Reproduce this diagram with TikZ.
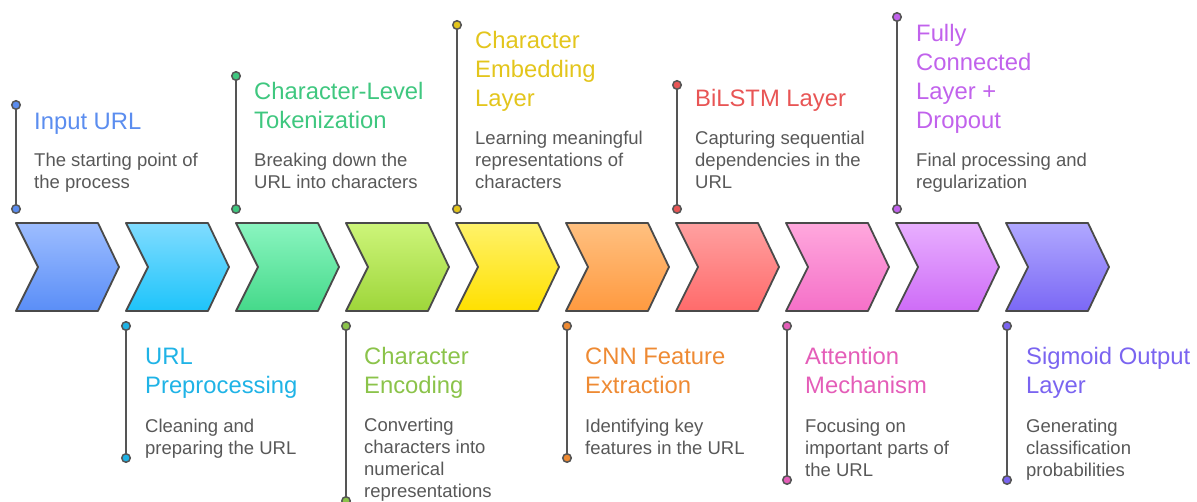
\documentclass[tikz,border=0pt]{standalone}
\usepackage{fontspec}
\setmainfont{Liberation Sans}
\usetikzlibrary{calc}
\definecolor{edge}{HTML}{4A4A4A}
\definecolor{stem}{HTML}{555555}
\definecolor{body}{HTML}{585858}
\definecolor{tA}{HTML}{9DBDFF}\definecolor{bA}{HTML}{5A8EF7}\definecolor{hA}{HTML}{5B8DEF}
\definecolor{tB}{HTML}{80DCFF}\definecolor{bB}{HTML}{1EC4FA}\definecolor{hB}{HTML}{1FB3E6}
\definecolor{tC}{HTML}{8AF5C0}\definecolor{bC}{HTML}{45D98A}\definecolor{hC}{HTML}{3FC77F}
\definecolor{tD}{HTML}{CDF57A}\definecolor{bD}{HTML}{9ED63A}\definecolor{hD}{HTML}{8BC34A}
\definecolor{tE}{HTML}{FFF26A}\definecolor{bE}{HTML}{FFE000}\definecolor{hE}{HTML}{E3C51C}
\definecolor{tF}{HTML}{FFC080}\definecolor{bF}{HTML}{FF9A40}\definecolor{hF}{HTML}{EE8A33}
\definecolor{tG}{HTML}{FFA0A0}\definecolor{bG}{HTML}{FF6B6B}\definecolor{hG}{HTML}{E85555}
\definecolor{tH}{HTML}{FFA8DD}\definecolor{bH}{HTML}{F570C8}\definecolor{hH}{HTML}{E45DB8}
\definecolor{tI}{HTML}{E8AFFF}\definecolor{bI}{HTML}{CE6CF7}\definecolor{hI}{HTML}{C162EC}
\definecolor{tJ}{HTML}{B0A8FF}\definecolor{bJ}{HTML}{7B68F5}\definecolor{hJ}{HTML}{7A64F0}
\tikzset{
  chev/.style={draw=edge, line width=1.8pt, line join=round},
  stemline/.style={draw=stem, line width=2.6pt},
  dot/.style={circle, draw=stem, line width=1.5pt, inner sep=0pt, minimum size=8.5pt},
  ttl/.style={anchor=base west, inner sep=0pt, align=left,
    font=\fontsize{23.8}{29}\selectfont},
  dsc/.style={anchor=base west, inner sep=0pt, align=left, text=body,
    font=\fontsize{18.5}{22}\selectfont},
}
\newcommand{\chevron}[3]{%
  \shade[chev, top color=#2, bottom color=#3]
    (#1,223) -- ++(82,0) -- ++(21,44) -- ++(-21,44) -- ++(-82,0) -- ++(22,-44) -- cycle;}
\begin{document}
\begin{tikzpicture}[x=1pt,y=-1pt]
\useasboundingbox (0,0) rectangle (1197,502);
% chevrons
\chevron{16}{tA}{bA}
\chevron{126}{tB}{bB}
\chevron{236}{tC}{bC}
\chevron{346}{tD}{bD}
\chevron{456}{tE}{bE}
\chevron{566}{tF}{bF}
\chevron{676}{tG}{bG}
\chevron{786}{tH}{bH}
\chevron{896}{tI}{bI}
\chevron{1006}{tJ}{bJ}

% (text nodes are placed at the baseline of their last line)
% ---- top items ----
% 1 Input URL
\coordinate (a1) at (16,105); \coordinate (a2) at (16,209);
\draw[stemline] (a1) -- (a2);
\node[dot, fill=hA] (a1d) at (a1) {}; \node[dot, fill=hA] (a2d) at (a2) {};
\node[ttl, text=hA] (aT) at (34,130) {Input URL};
\node[dsc] (aD) at (34,189) {The starting point of\\the process};

% 3 Tokenization
\coordinate (c1) at (236,76); \coordinate (c2) at (236,209);
\draw[stemline] (c1) -- (c2);
\node[dot, fill=hC] (c1d) at (c1) {}; \node[dot, fill=hC] (c2d) at (c2) {};
\node[ttl, text=hC] (cT) at (254,129) {Character-Level\\Tokenization};
\node[dsc] (cD) at (254,189) {Breaking down the\\URL into characters};

% 5 Embedding
\coordinate (e1) at (457,25); \coordinate (e2) at (457,209);
\draw[stemline] (e1) -- (e2);
\node[dot, fill=hE] (e1d) at (e1) {}; \node[dot, fill=hE] (e2d) at (e2) {};
\node[ttl, text=hE] (eT) at (475,107) {Character\\Embedding\\Layer};
\node[dsc] (eD) at (475,189) {Learning meaningful\\representations of\\characters};

% 7 BiLSTM
\coordinate (g1) at (677,85); \coordinate (g2) at (677,209);
\draw[stemline] (g1) -- (g2);
\node[dot, fill=hG] (g1d) at (g1) {}; \node[dot, fill=hG] (g2d) at (g2) {};
\node[ttl, text=hG] (gT) at (695,107) {BiLSTM Layer};
\node[dsc] (gD) at (695,189) {Capturing sequential\\dependencies in the\\URL};

% 9 Fully connected
\coordinate (i1) at (897,17); \coordinate (i2) at (897,209);
\draw[stemline] (i1) -- (i2);
\node[dot, fill=hI] (i1d) at (i1) {}; \node[dot, fill=hI] (i2d) at (i2) {};
\node[ttl, text=hI] (iT) at (916,129) {Fully\\Connected\\Layer +\\Dropout};
\node[dsc] (iD) at (916,189) {Final processing and\\regularization};

% ---- bottom items ----
% 2 URL Preprocessing
\coordinate (b1) at (126,326); \coordinate (b2) at (126,458);
\draw[stemline] (b1) -- (b2);
\node[dot, fill=hB] (b1d) at (b1) {}; \node[dot, fill=hB] (b2d) at (b2) {};
\node[ttl, text=hB] (bT) at (145,394) {URL\\Preprocessing};
\node[dsc] (bD) at (145,454) {Cleaning and\\preparing the URL};

% 4 Character Encoding
\coordinate (d1) at (346,326); \coordinate (d2) at (346,501);
\draw[stemline] (d1) -- (d2);
\node[dot, fill=hD] (d1d) at (d1) {}; \node[dot, fill=hD] (d2d) at (d2) {};
\node[ttl, text=hD] (dT) at (364,394) {Character\\Encoding};
\node[dsc] (dD) at (364,497) {Converting\\characters into\\numerical\\representations};

% 6 CNN
\coordinate (f1) at (567,326); \coordinate (f2) at (567,458);
\draw[stemline] (f1) -- (f2);
\node[dot, fill=hF] (f1d) at (f1) {}; \node[dot, fill=hF] (f2d) at (f2) {};
\node[ttl, text=hF] (fT) at (585,394) {CNN Feature\\Extraction};
\node[dsc] (fD) at (585,454) {Identifying key\\features in the URL};

% 8 Attention
\coordinate (h1) at (787,326); \coordinate (h2) at (787,480);
\draw[stemline] (h1) -- (h2);
\node[dot, fill=hH] (h1d) at (h1) {}; \node[dot, fill=hH] (h2d) at (h2) {};
\node[ttl, text=hH] (hT) at (805,394) {Attention\\Mechanism};
\node[dsc] (hD) at (805,476) {Focusing on\\important parts of\\the URL};

% 10 Sigmoid
\coordinate (j1) at (1007,326); \coordinate (j2) at (1007,480);
\draw[stemline] (j1) -- (j2);
\node[dot, fill=hJ] (j1d) at (j1) {}; \node[dot, fill=hJ] (j2d) at (j2) {};
\node[ttl, text=hJ] (jT) at (1026,394) {Sigmoid Output\\Layer};
\node[dsc] (jD) at (1026,476) {Generating\\classification\\probabilities};
\end{tikzpicture}
\end{document}
